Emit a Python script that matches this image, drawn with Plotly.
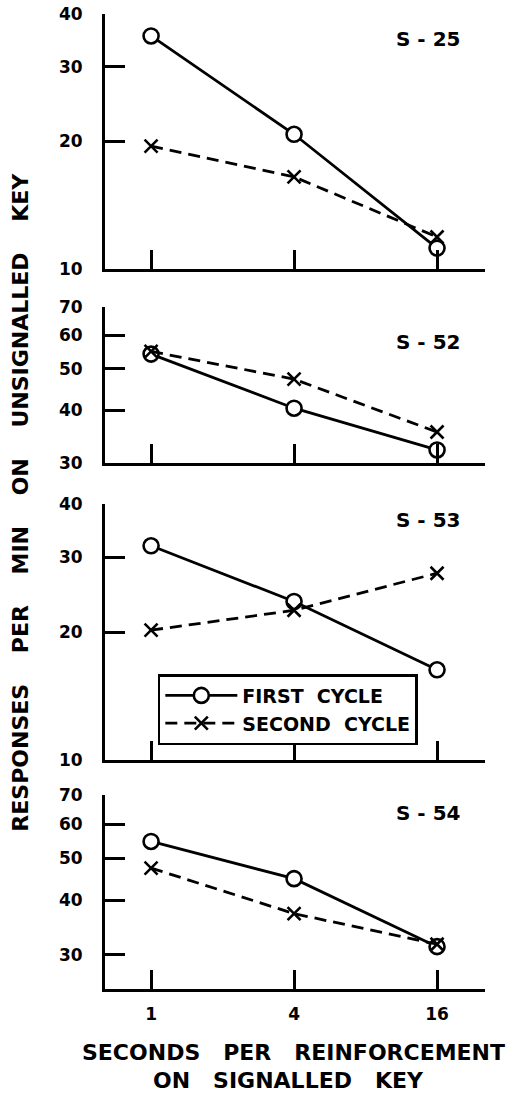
import math
import plotly.graph_objects as go

# ---- data ----
seconds = [1, 4, 16]
subjects = ["S-25", "S-52", "S-53", "S-54"]
first_cycle = {
    "S-25": [35.5, 20.8, 11.2],
    "S-52": [54.2, 40.4, 32.2],
    "S-53": [31.9, 23.6, 16.3],
    "S-54": [54.7, 44.9, 31.3],
}
second_cycle = {
    "S-25": [19.5, 16.5, 11.9],
    "S-52": [55.0, 47.3, 35.5],
    "S-53": [20.2, 22.5, 27.5],
    "S-54": [47.5, 37.3, 31.7],
}
y_ranges = {"S-25": (10, 40), "S-52": (30, 70), "S-53": (10, 40), "S-54": (25, 70)}
y_ticks = {
    "S-25": [10, 20, 30, 40],
    "S-52": [30, 40, 50, 60, 70],
    "S-53": [10, 20, 30, 40],
    "S-54": [30, 40, 50, 60, 70],
}
x_ticks = [1, 4, 16]
x_tick_labels = ["1", "4", "16"]

# ---- layout ----
W, H = 516, 1093
ML, MR, MT, MB = 105, 31, 14, 104
domains = [(0.7385, 1.0), (0.5395, 0.6995), (0.2349, 0.4974), (0.0, 0.199)]
FONT = "DejaVu Sans"

fig = go.Figure()
for i, s in enumerate(subjects):
    ax = "" if i == 0 else str(i + 1)
    fig.add_trace(go.Scatter(
        x=seconds, y=first_cycle[s], xaxis="x" + ax, yaxis="y" + ax,
        mode="lines+markers", name="FIRST  CYCLE", showlegend=(i == 0),
        line=dict(color="black", width=2.8),
        marker=dict(symbol="circle", size=15, color="white",
                    line=dict(color="black", width=2.6)),
    ))
    fig.add_trace(go.Scatter(
        x=seconds, y=second_cycle[s], xaxis="x" + ax, yaxis="y" + ax,
        mode="lines+markers", name="SECOND  CYCLE", showlegend=(i == 0),
        line=dict(color="black", width=2.8, dash="12px,7px"),
        marker=dict(symbol="x-thin-open", size=13, color="black",
                    line=dict(color="black", width=2.6)),
    ))
    lo, hi = y_ranges[s]
    common = dict(showline=True, linecolor="black", linewidth=3, ticks="inside",
                  tickcolor="black", tickwidth=3, showgrid=False, zeroline=False,
                  automargin=False, ticklabeloverflow="allow",
                  tickfont=dict(family=FONT, size=17, color="black", weight="bold"))
    fig.update_layout(**{
        "xaxis" + ax: dict(type="log", range=[-0.194, 1.406], tickvals=x_ticks,
                           ticktext=x_tick_labels, ticklen=19,
                           showticklabels=(i == 3), anchor="y" + ax,
                           ticklabelstandoff=8, **common),
        "yaxis" + ax: dict(type="log", range=[math.log10(lo), math.log10(hi)],
                           tickvals=y_ticks[s], ticktext=[str(v) for v in y_ticks[s]],
                           ticklen=20, domain=list(domains[i]), anchor="x" + ax,
                           ticklabelstandoff=16, **common),
    })

label_pos = [0.974, 0.6635, 0.481, 0.1805]
for i, s in enumerate(subjects):
    fig.add_annotation(text=s.replace("-", " - "), x=0.85, y=label_pos[i], xref="paper", yref="paper",
                       xanchor="center", yanchor="middle", showarrow=False,
                       font=dict(family=FONT, size=20, color="black", weight="bold"))

fig.add_annotation(text="RESPONSES    PER    MIN    ON    UNSIGNALLED    KEY", textangle=-90,
                   x=-0.222, y=0.4995, xref="paper", yref="paper", showarrow=False,
                   xanchor="center", yanchor="middle",
                   font=dict(family=FONT, size=22, color="black", weight="bold"))
fig.add_annotation(text="SECONDS   PER   REINFORCEMENT", x=0.495, y=-0.0656,
                   xref="paper", yref="paper", showarrow=False,
                   xanchor="center", yanchor="middle",
                   font=dict(family=FONT, size=22, color="black", weight="bold"))
fig.add_annotation(text="ON   SIGNALLED   KEY", x=0.482, y=-0.0935,
                   xref="paper", yref="paper", showarrow=False,
                   xanchor="center", yanchor="middle",
                   font=dict(family=FONT, size=22, color="black", weight="bold"))

fig.update_layout(
    width=W, height=H, margin=dict(l=ML, r=MR, t=MT, b=MB),
    paper_bgcolor="white", plot_bgcolor="white",
    showlegend=True,
    legend=dict(x=0.139, y=0.323, xanchor="left", yanchor="top",
                bgcolor="white", bordercolor="black", borderwidth=2.5,
                font=dict(family=FONT, size=19, color="black", weight="bold"),
                itemwidth=72, tracegroupgap=0),
)

fig.write_html("out.html", config={"displayModeBar": False},
               post_script="document.body.style.margin='0';document.body.style.overflow='hidden';")
